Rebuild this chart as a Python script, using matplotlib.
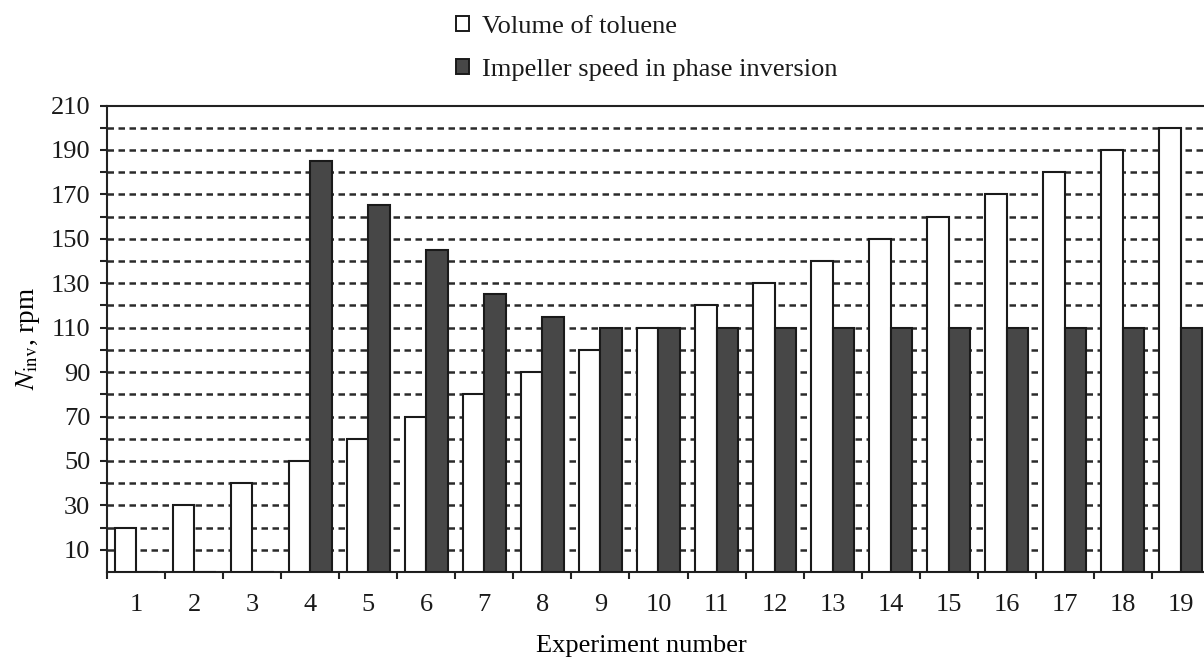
import matplotlib
matplotlib.use("Agg")
import matplotlib.pyplot as plt
from matplotlib.patches import Patch
from matplotlib.ticker import FixedLocator, FuncFormatter
import numpy as np

experiments = [str(i) for i in range(1, 20)]
toluene_volume = [20, 30, 40, 50, 60, 70, 80, 90, 100, 110,
                  120, 130, 140, 150, 160, 170, 180, 190, 200]
impeller_speed = [0, 0, 0, 185, 165, 145, 125, 115, 110, 110,
                  110, 110, 110, 110, 110, 110, 110, 110, 110]

plt.rcParams["font.family"] = ["Liberation Serif", "DejaVu Serif"]
plt.rcParams["mathtext.fontset"] = "stix"
plt.rcParams["text.color"] = "#1a1a1a"
plt.rcParams["xtick.labelcolor"] = "#1a1a1a"
plt.rcParams["ytick.labelcolor"] = "#1a1a1a"

fig = plt.figure(figsize=(12.04, 6.58), dpi=100)
ax = fig.add_axes([107 / 1204, 86 / 658, 1103 / 1204, 466.5 / 658])

x = np.arange(len(experiments))
w = 0.37
ax.bar(x - w / 2, toluene_volume, w, color="white", edgecolor="#1a1a1a",
       linewidth=1.5, zorder=3)
ax.bar(x + w / 2, impeller_speed, w, color="#474747", edgecolor="#1a1a1a",
       linewidth=1.5, zorder=3)

ax.set_xlim(-0.5, len(experiments) - 0.5)
ax.set_ylim(0, 210)

ax.yaxis.set_major_locator(FixedLocator(np.arange(10, 211, 10)))
ax.yaxis.set_major_formatter(
    FuncFormatter(lambda v, p: f"{int(v)}" if int(v) % 20 == 10 else ""))
ax.set_xticks(x)
ax.set_xticklabels(experiments)
ax.xaxis.set_minor_locator(FixedLocator(np.arange(-0.5, len(experiments), 1)))

ax.tick_params(axis="x", which="major", length=0, pad=16, labelsize=19)
ax.tick_params(axis="x", which="minor", length=5, width=1.5, color="#222222")
ax.tick_params(axis="y", length=5, width=1.5, color="#222222", pad=7,
               labelsize=19)

for yv in range(10, 210, 10):
    ax.axhline(yv, color="#2a2a2a", linewidth=1.8, linestyle=(0, (2.6, 1.8)),
               zorder=1)

for side in ["left", "bottom", "top"]:
    ax.spines[side].set_linewidth(1.5)
    ax.spines[side].set_color("#222222")
ax.spines["right"].set_visible(False)

ax.set_ylabel(r"$N_\mathrm{inv}$, rpm", fontsize=19.5)
ax.yaxis.set_label_coords(-0.059, 0.5)
ax.set_xlabel("Experiment number", fontsize=19)
ax.xaxis.set_label_coords((641 - 107) / 1103, -0.136)

handles = [
    Patch(facecolor="white", edgecolor="#1a1a1a", linewidth=1.4,
          label="Volume of toluene"),
    Patch(facecolor="#474747", edgecolor="#1a1a1a", linewidth=1.4,
          label="Impeller speed in phase inversion"),
]
fig.legend(handles=handles, loc="upper left",
           bbox_to_anchor=(456 / 1204, 1 - 16 / 658), frameon=False,
           fontsize=19, handlelength=0.5, handleheight=0.5,
           handletextpad=0.5, labelspacing=0.8, borderpad=0,
           borderaxespad=0)

fig.savefig("out.png", dpi=100)
